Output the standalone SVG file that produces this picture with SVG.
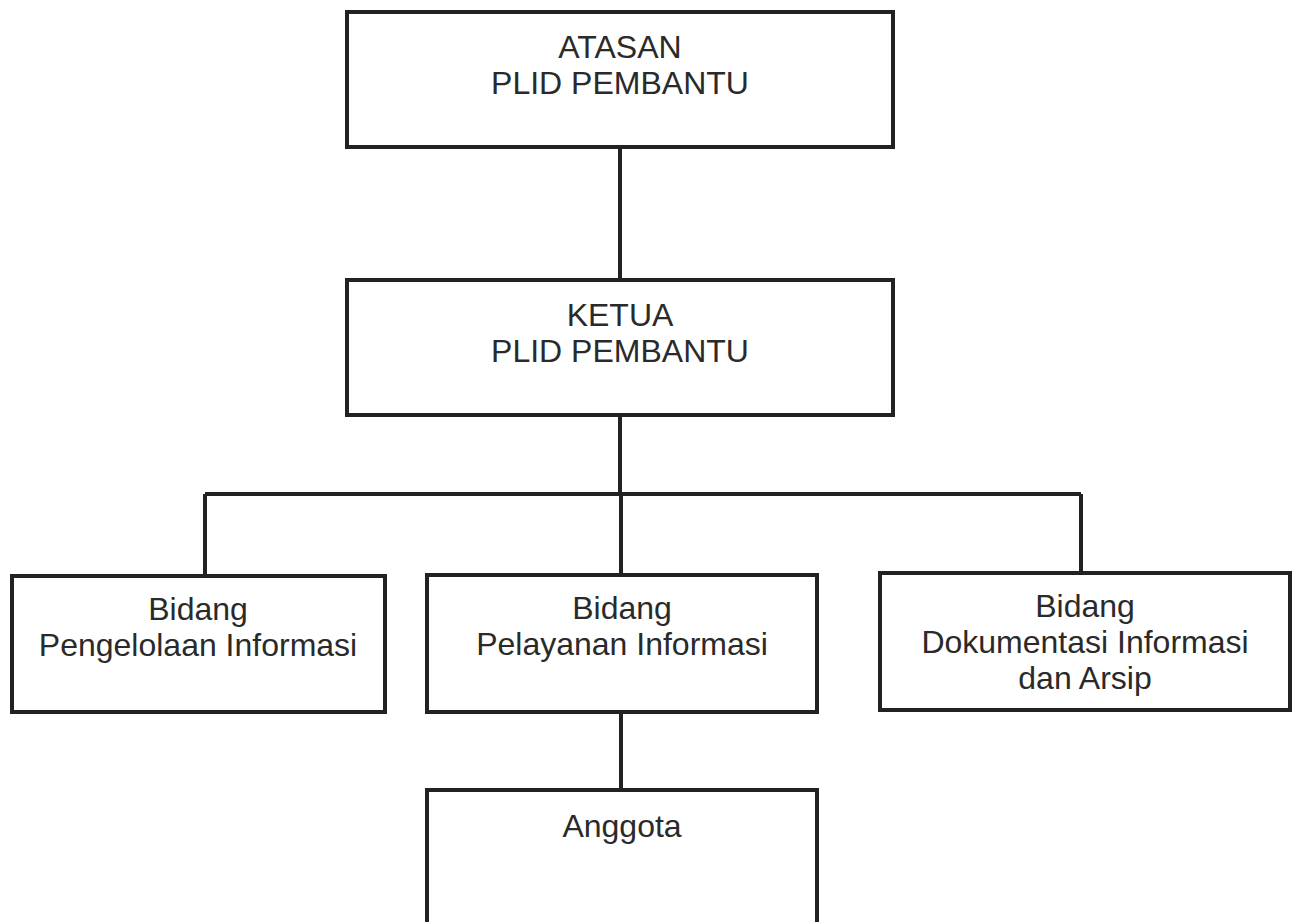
<svg xmlns="http://www.w3.org/2000/svg" width="1295" height="922" viewBox="0 0 1295 922">
<style>
.box{fill:#fff;stroke:#222;stroke-width:4}
.ln{fill:none;stroke:#222;stroke-width:4}
text{font-family:"Liberation Sans",Arial,sans-serif;font-size:32px;fill:#2a2a2a;text-anchor:middle}
</style>
<rect width="1295" height="922" fill="#fff"/>
<g id="connectors">
<path class="ln" d="M620 147V280"/>
<path class="ln" d="M620 415V494"/>
<path class="ln" d="M205 494H1081"/>
<path class="ln" d="M205 494V576"/>
<path class="ln" d="M621 494V575"/>
<path class="ln" d="M1081 494V573"/>
<path class="ln" d="M621 712V790"/>
</g>
<g id="atasan">
<rect class="box" x="347" y="12" width="546" height="135"/>
<text x="620" y="58">ATASAN</text>
<text x="620" y="94">PLID PEMBANTU</text>
</g>
<g id="ketua">
<rect class="box" x="347" y="280" width="546" height="135"/>
<text x="620" y="326">KETUA</text>
<text x="620" y="362">PLID PEMBANTU</text>
</g>
<g id="pengelolaan">
<rect class="box" x="12" y="576" width="373" height="136"/>
<text x="198" y="620">Bidang</text>
<text x="198" y="656">Pengelolaan Informasi</text>
</g>
<g id="pelayanan">
<rect class="box" x="427" y="575" width="390" height="137"/>
<text x="622" y="619">Bidang</text>
<text x="622" y="655">Pelayanan Informasi</text>
</g>
<g id="dokumentasi">
<rect class="box" x="880" y="573" width="410" height="137"/>
<text x="1085" y="617">Bidang</text>
<text x="1085" y="653">Dokumentasi Informasi</text>
<text x="1085" y="689">dan Arsip</text>
</g>
<g id="anggota">
<rect class="box" x="427" y="790" width="390" height="140"/>
<text x="622" y="837">Anggota</text>
</g>
</svg>
